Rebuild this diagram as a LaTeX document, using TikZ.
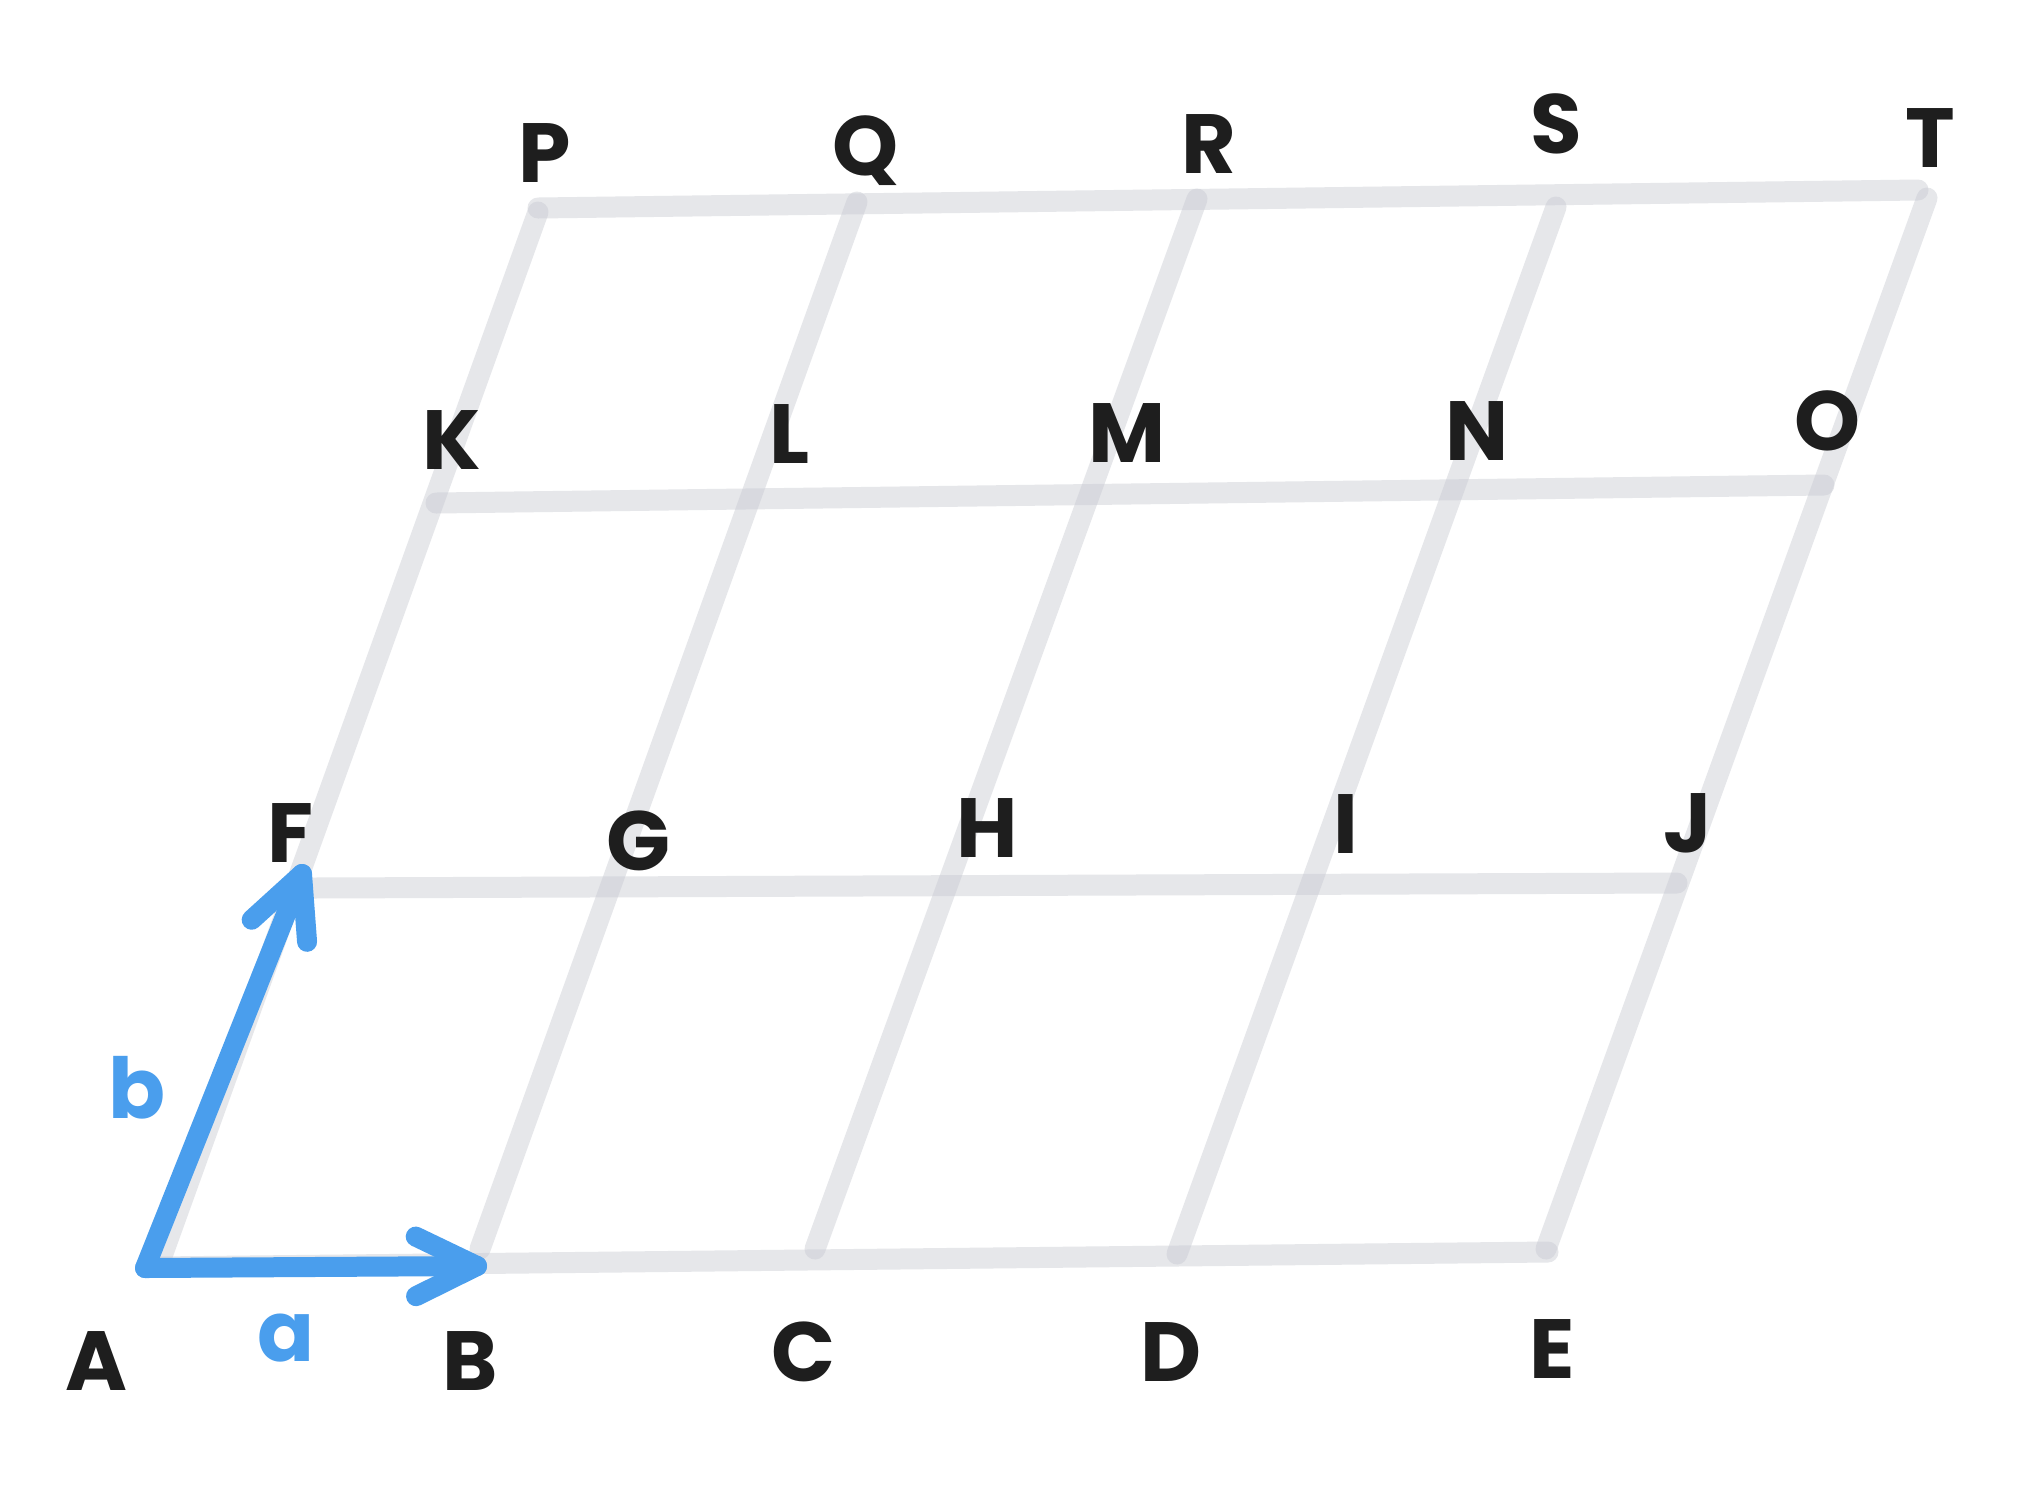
\documentclass[tikz,border=0pt]{standalone}
\usepackage{fontspec}
\setmainfont{Poppins}
\usetikzlibrary{calc}
\definecolor{gridgray}{RGB}{200,202,210}
\definecolor{vecblue}{RGB}{74,158,237}
\definecolor{ink}{RGB}{30,30,30}
\begin{document}
\begin{tikzpicture}[x=0.5pt,y=-0.5pt,
  gridline/.style={draw=gridgray, line width=10.5pt, line cap=round, opacity=0.45},
  vecline/.style={draw=vecblue, line width=10pt, line cap=round, line join=round},
  lbl/.style={text=ink, font=\fontsize{42}{42}\selectfont\bfseries, inner sep=0pt, text height=30pt, text depth=0pt},
  blbl/.style={lbl, text=vecblue}]
\useasboundingbox[fill=white] (0,0) rectangle (2023,1485);
% grid line end points
\coordinate (h0s) at (155,1267); \coordinate (h0e) at (1548,1252);
\coordinate (h1s) at (311,888);  \coordinate (h1e) at (1677,883);
\coordinate (h2s) at (436,503);  \coordinate (h2e) at (1824,485);
\coordinate (h3s) at (538,208);  \coordinate (h3e) at (1918,190);
\coordinate (v0s) at (162,1256); \coordinate (v0e) at (538,212);
\coordinate (v1s) at (480,1249); \coordinate (v1e) at (857,202);
\coordinate (v2s) at (815,1249); \coordinate (v2e) at (1197,199);
\coordinate (v3s) at (1177,1254);\coordinate (v3e) at (1556,207);
\coordinate (v4s) at (1546,1249);\coordinate (v4e) at (1927,198);
% grid lines
\foreach \n in {h0,h1,h2,h3,v0,v1,v2,v3,v4}
  \draw[gridline] (\n s) -- (\n e);
% vectors
\coordinate (pA) at (145,1268);
\coordinate (pB) at (477,1266);
\coordinate (pF) at (302,874);
\draw[vecline] (pA) -- (pB);
\draw[vecline] ($(pB)!34pt!26:(pA)$) -- (pB) -- ($(pB)!34pt!-26:(pA)$);
\draw[vecline] (pA) -- (pF);
\draw[vecline] ($(pF)!34pt!26:(pA)$) -- (pF) -- ($(pF)!34pt!-26:(pA)$);
% labels
\node[lbl] (A) at (96,1360) {A};
\node[lbl] (B) at (470,1360) {B};
\node[lbl] (C) at (803,1351) {C};
\node[lbl] (D) at (1171,1351) {D};
\node[lbl] (E) at (1552,1348) {E};
\node[lbl] (F) at (290,832) {F};
\node[lbl] (G) at (638,840) {G};
\node[lbl] (H) at (987,827) {H};
\node[lbl] (I) at (1346,823) {I};
\node[lbl] (J) at (1688,822) {J};
\node[lbl] (K) at (452,439) {K};
\node[lbl] (L) at (790,433) {L};
\node[lbl] (M) at (1127,432) {M};
\node[lbl] (N) at (1477,430) {N};
\node[lbl] (O) at (1827,420) {O};
\node[lbl] (P) at (545,152) {P};
\node[lbl] (Q) at (866,145) {Q};
\node[lbl] (R) at (1209,143) {R};
\node[lbl] (S) at (1556,123) {S};
\node[lbl] (T) at (1930,137) {T};
\node[blbl, text height=21pt] (la) at (286,1340) {a};
\node[blbl] (lb) at (137,1088) {b};
\end{tikzpicture}
\end{document}
